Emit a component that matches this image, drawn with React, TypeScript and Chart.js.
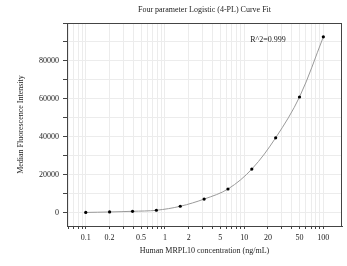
import React, { useEffect, useRef } from "react";
import { Chart, registerables } from "chart.js";

Chart.register(...registerables);

const concentrations = [0.1, 0.2, 0.39, 0.78, 1.56, 3.125, 6.25, 12.5, 25, 50, 100];
const intensities = [150, 400, 750, 1300, 3400, 7200, 12500, 23000, 39500, 61000, 92700];
const xLabelTicks = [0.1, 0.2, 0.5, 1, 2, 5, 10, 20, 50, 100];
const xMinorTicks = [
  0.06, 0.07, 0.08, 0.09,
  0.1, 0.2, 0.3, 0.4, 0.5, 0.6, 0.7, 0.8, 0.9,
  1, 2, 3, 4, 5, 6, 7, 8, 9,
  10, 20, 30, 40, 50, 60, 70, 80, 90,
  100,
];
const yTicks = [0, 10000, 20000, 30000, 40000, 50000, 60000, 70000, 80000, 90000, 100000];
const yLabelTicks = [0, 20000, 40000, 60000, 80000];

const titleText = "Four parameter Logistic (4-PL) Curve Fit";
const xTitle = "Human MRPL10 concentration (ng/mL)";
const yTitle = "Median Fluorescence Intensity";
const r2Text = "R^2=0.999";

const FONT = "'Liberation Serif', 'DejaVu Serif', serif";

export default function App() {
  const ref = useRef<HTMLCanvasElement | null>(null);

  useEffect(() => {
    if (!ref.current) return;
    const textPlugin = {
      id: "texts",
      afterDraw(chart: any) {
        const ctx = chart.ctx as CanvasRenderingContext2D;
        const a = chart.chartArea;
        ctx.save();
        ctx.strokeStyle = "#444";
        ctx.lineWidth = 1;
        ctx.strokeRect(Math.round(a.left) + 0.5, Math.round(a.top) + 0.5, Math.round(a.right - a.left) - 1, Math.round(a.bottom - a.top));
        ctx.fillStyle = "#222";
        ctx.textAlign = "center";
        ctx.textBaseline = "middle";
        ctx.font = `8px ${FONT}`;
        ctx.fillText(titleText, (a.left + a.right) / 2, 10);
        ctx.fillText(xTitle, (a.left + a.right) / 2, 251);
        ctx.fillText(r2Text, 268, 40);
        ctx.translate(21, (a.top + a.bottom) / 2);
        ctx.rotate(-Math.PI / 2);
        ctx.fillText(yTitle, 0, 0);
        ctx.restore();
      },
    };

    const chart = new Chart(ref.current, {
      type: "scatter",
      data: {
        datasets: [
          {
            data: concentrations.map((c, i) => ({ x: c, y: intensities[i] })),
            showLine: true,
            tension: 0.35,
            borderColor: "#9a9a9a",
            borderWidth: 1,
            pointRadius: 1.6,
            pointBackgroundColor: "#000",
            pointBorderColor: "#000",
            pointBorderWidth: 0,
          },
        ],
      },
      options: {
        animation: false,
        responsive: false,
        maintainAspectRatio: false,
        layout: { padding: { top: 23, right: 5, left: 0, bottom: 0 } },
        plugins: { legend: { display: false }, title: { display: false }, tooltip: { enabled: false } },
        scales: {
          x: {
            type: "logarithmic",
            min: 0.058,
            max: 172,
            afterFit(scale: any) {
              scale.height = 40;
            },
            afterBuildTicks(scale: any) {
              scale.ticks = xMinorTicks.map((v) => ({ value: v }));
            },
            border: { display: true, color: "#444", width: 1 },
            grid: { color: "#ececec", lineWidth: 1, tickLength: 3, tickColor: "#444", drawOnChartArea: true },
            ticks: {
              autoSkip: false,
              maxRotation: 0,
              padding: 4,
              color: "#222",
              font: { family: FONT, size: 8 },
              callback: (v: any) => {
                const n = Number(v);
                const hit = xLabelTicks.find((t) => Math.abs(t - n) / t < 1e-6);
                return hit !== undefined ? String(hit) : "";
              },
            },
          },
          y: {
            type: "linear",
            min: -7000,
            max: 100000,
            afterFit(scale: any) {
              scale.width = 67;
            },
            afterBuildTicks(scale: any) {
              scale.ticks = yTicks.map((v) => ({ value: v }));
            },
            border: { display: true, color: "#444", width: 1 },
            grid: { color: "#ececec", lineWidth: 1, tickLength: 4, tickColor: "#444" },
            ticks: {
              autoSkip: false,
              padding: 4,
              color: "#222",
              font: { family: FONT, size: 8 },
              callback: (v: any) => (yLabelTicks.includes(Number(v)) ? String(v) : ""),
            },
          },
        },
      },
      plugins: [textPlugin],
    } as any);
    return () => chart.destroy();
  }, []);

  return (
    <div style={{ position: "fixed", left: 0, top: 0, width: 347, height: 266, background: "#fff" }}>
      <canvas ref={ref} width={347} height={266} style={{ width: 347, height: 266 }} />
    </div>
  );
}
